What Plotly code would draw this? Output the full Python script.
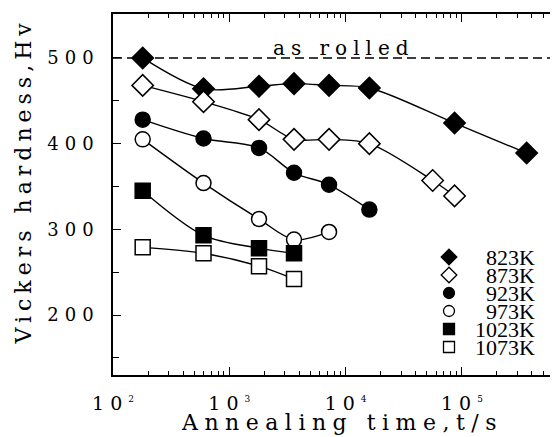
import plotly.graph_objects as go

# ---------------- data ----------------
temps = ["823K", "873K", "923K", "973K", "1023K", "1073K"]

t823 = [180, 600, 1800, 3600, 7200, 16000, 86400, 360000]
h823 = [500, 464, 467, 470, 468, 465, 424, 389]

t873 = [180, 600, 1800, 3600, 7200, 16000, 56000, 86400]
h873 = [468, 449, 428, 405, 405, 400, 357, 339]

t923 = [180, 600, 1800, 3600, 7200, 16000]
h923 = [428, 406, 395, 366, 352, 323]

t973 = [180, 600, 1800, 3600, 7200]
h973 = [405, 354, 312, 288, 297]

t1023 = [180, 600, 1800, 3600]
h1023 = [345, 293, 278, 272]

t1073 = [180, 600, 1800, 3600]
h1073 = [279, 272, 257, 242]

as_rolled = 500

x_tick_vals = [1e2, 1e3, 1e4, 1e5]
x_tick_exps = ["2", "3", "4", "5"]
y_tick_vals = [200, 300, 400, 500]
y_minor_vals = [150, 250, 350, 450]

series_t = [t823, t873, t923, t973, t1023, t1073]
series_h = [h823, h873, h923, h973, h1023, h1073]

# ---------------- style ----------------
SERIF = "DejaVu Serif"
shapes_sym = ["diamond", "diamond", "circle", "circle", "square", "square"]
fills = ["black", "white", "black", "white", "black", "white"]
sizes = [16.5, 16.5, 15, 15, 15, 15]
leg_sizes = [12, 12, 11, 11, 11, 11]

W, H = 553, 437
L, R, T, B = 113, 3, 14, 62
pw, ph = W - L - R, H - T - B


def spaced(s, ls, trailing=False):
    # letter-spaced text
    if trailing:
        return f"<span style='letter-spacing:{ls}px'>{s}</span>"
    return f"<span style='letter-spacing:{ls}px'>{s[:-1]}</span>{s[-1]}"


fig = go.Figure()

# curves
for t, h in zip(series_t, series_h):
    fig.add_trace(go.Scatter(x=t, y=h, mode="lines",
                             line=dict(color="black", width=1.4, shape="spline", smoothing=0.9),
                             showlegend=False, hoverinfo="skip"))
# markers
for t, h, sym, fc, sz, name in zip(series_t, series_h, shapes_sym, fills, sizes, temps):
    fig.add_trace(go.Scatter(x=t, y=h, mode="markers", name=name,
                             marker=dict(symbol=sym, size=sz, color=fc,
                                         line=dict(color="black", width=1.5)),
                             showlegend=False))

# manual legend (symbols on hidden overlay axes)
leg_x_px = 449
leg_text_right_px = 537
leg_y0_px, leg_dy = 257, 18
leg_x = [(leg_x_px - L) / pw] * len(temps)
leg_y = [(H - B - (leg_y0_px + i * leg_dy)) / ph for i in range(len(temps))]
for i, name in enumerate(temps):
    fig.add_trace(go.Scatter(x=[leg_x[i]], y=[leg_y[i]], mode="markers",
                             xaxis="x2", yaxis="y2", showlegend=False, hoverinfo="skip",
                             marker=dict(symbol=shapes_sym[i], size=leg_sizes[i], color=fills[i],
                                         line=dict(color="black", width=1.3))))
    fig.add_annotation(x=(leg_text_right_px - L) / pw, y=leg_y[i], xref="paper", yref="paper",
                       text=name, showarrow=False, xanchor="right", yanchor="middle",
                       font=dict(family="Liberation Serif", size=22, color="black"))

minor_x = [m * 10 ** e for e in range(2, 6) for m in range(2, 10) if m * 10 ** e < 5.6e5]

fig.update_layout(
    width=W, height=H,
    margin=dict(l=L, r=R, t=T, b=B),
    paper_bgcolor="white", plot_bgcolor="white",
    xaxis=dict(type="log", range=[2, 5.757], showgrid=False, zeroline=False,
               showline=True, linecolor="black", linewidth=1.5, mirror="ticks",
               ticks="inside", ticklen=8, tickwidth=1.3, tickcolor="black",
               tickvals=x_tick_vals,
               ticktext=[spaced("10", 6, trailing=True)
                         + f"<sup><span style='font-size:9px'>{e}</span></sup>"
                         for e in x_tick_exps],
               tickfont=dict(family=SERIF, size=19, color="black"),
               ticklabelstandoff=10,
               minor=dict(tickvals=minor_x, ticks="inside", ticklen=4, tickwidth=1.2,
                          tickcolor="black", showgrid=False)),
    yaxis=dict(range=[130, 551.3], showgrid=False, zeroline=False,
               showline=True, linecolor="black", linewidth=1.5,
               ticks="inside", ticklen=8, tickwidth=1.3, tickcolor="black",
               tickvals=y_tick_vals,
               ticktext=[spaced(str(v), 6) for v in y_tick_vals],
               tickfont=dict(family=SERIF, size=18, color="black"),
               ticklabelstandoff=14,
               minor=dict(tickvals=y_minor_vals, ticks="inside", ticklen=6, tickwidth=1.2,
                          tickcolor="black", showgrid=False)),
    xaxis2=dict(overlaying="x", range=[0, 1], visible=False, anchor="y2"),
    yaxis2=dict(overlaying="y", range=[0, 1], visible=False, anchor="x2"),
)

# as rolled dashed line
fig.add_shape(type="line", xref="paper", yref="y", x0=0, x1=1, y0=as_rolled, y1=as_rolled,
              line=dict(color="black", width=1.5, dash="9px,5px"))
fig.add_annotation(x=(340.5 - L) / pw, y=as_rolled, xref="paper", yref="y",
                   text=spaced("as rolled", 6), showarrow=False, xanchor="center",
                   yanchor="bottom", yshift=-4,
                   font=dict(family=SERIF, size=20, color="black"))

# axis titles
fig.add_annotation(x=(338 - L) / pw, y=(H - B - 422) / ph, xref="paper", yref="paper",
                   text=spaced("Annealing time,t/s", 6.5), showarrow=False,
                   xanchor="center", yanchor="middle",
                   font=dict(family=SERIF, size=22, color="black"))
fig.add_annotation(x=(23 - L) / pw, y=(H - B - 183.5) / ph, xref="paper", yref="paper",
                   text=spaced("Vickers hardness,Hv", 5), showarrow=False, textangle=-90,
                   xanchor="center", yanchor="middle",
                   font=dict(family=SERIF, size=22, color="black"))

fig.write_html("out.html")
